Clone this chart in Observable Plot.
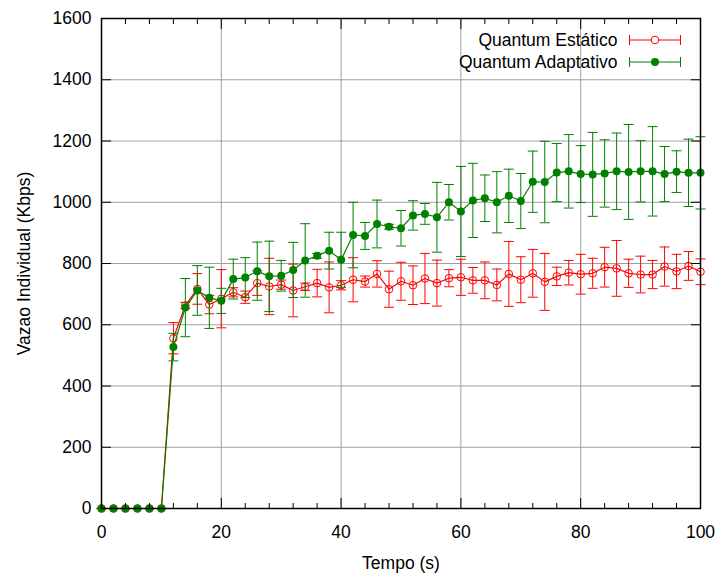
<!DOCTYPE html>
<html>
<head>
<meta charset="utf-8">
<script src="https://cdn.jsdelivr.net/npm/d3@7"></script>
<script src="https://cdn.jsdelivr.net/npm/@observablehq/plot@0.6"></script>
<style>
  html, body { margin: 0; padding: 0; background: #fff; }
</style>
</head>
<body>
<div id="chart"></div>
<script>
// ---- data ----
const tempo = [0,2,4,6,8,10,12,14,16,18,20,22,24,26,28,30,32,34,36,38,40,42,44,46,48,50,52,54,56,58,60,62,64,66,68,70,72,74,76,78,80,82,84,86,88,90,92,94,96,98,100];

const estaticoMean = [0,0,0,0,0,0,556,663,717,666,685,706,690,736,725,731,712,724,736,722,729,747,741,766,716,742,729,751,736,752,755,745,745,730,766,747,768,740,758,770,765,768,788,784,768,764,764,790,774,792,773];
const estaticoErr  = [0,0,0,0,0,0,51,10,50,30,95,15,20,40,92,15,86,12,45,83,15,72,18,43,59,62,63,82,75,28,59,42,60,52,106,75,78,93,30,40,65,49,65,91,46,60,46,64,56,47,42];

const adaptativoMean = [0,0,0,0,0,0,527,656,712,688,678,749,754,775,758,760,779,810,825,842,812,893,890,929,920,915,957,962,951,1000,970,1006,1013,1000,1021,1004,1067,1066,1097,1101,1092,1091,1094,1101,1099,1101,1101,1092,1100,1096,1096];
const adaptativoErr  = [0,0,0,0,0,0,45,95,81,100,41,65,65,95,115,50,90,120,8,60,90,107,44,78,8,58,48,34,114,58,147,121,76,100,87,90,100,133,95,120,93,137,110,125,155,100,146,90,68,110,118];

const seriesNames = ["Quantum Estático", "Quantum Adaptativo"];
const xTicks = [0,20,40,60,80,100];
const xMinorTicks = [4,8,12,16,24,28,32,36,44,48,52,56,64,68,72,76,84,88,92,96];
const yTicks = [0,200,400,600,800,1000,1200,1400,1600];
const xLabel = "Tempo (s)";
const yLabel = "Vazao Individual (Kbps)";

// ---- build tables ----
const estatico = tempo.map((t, i) => ({t, v: estaticoMean[i], e: estaticoErr[i]}));
const adaptativo = tempo.map((t, i) => ({t, v: adaptativoMean[i], e: adaptativoErr[i]}));

const RED = "#ff0000";
const GREEN = "#008000";
const FS = 17.5;

const capSymbol = { draw(ctx) { ctx.moveTo(-5, 0); ctx.lineTo(5, 0); } };
const legendSymbol = { draw(ctx) {
  const w = 25.5, h = 5;
  ctx.moveTo(-w, 0); ctx.lineTo(w, 0);
  ctx.moveTo(-w, -h); ctx.lineTo(-w, h);
  ctx.moveTo(w, -h); ctx.lineTo(w, h);
} };

function seriesMarks(data, color, filled) {
  return [
    Plot.ruleX(data, {x: "t", y1: d => d.v - d.e, y2: d => d.v + d.e, stroke: color, strokeWidth: 1}),
    Plot.dot(data, {x: "t", y: d => d.v - d.e, symbol: capSymbol, r: 5, stroke: color, fill: "none", strokeWidth: 1}),
    Plot.dot(data, {x: "t", y: d => d.v + d.e, symbol: capSymbol, r: 5, stroke: color, fill: "none", strokeWidth: 1}),
    Plot.line(data, {x: "t", y: "v", stroke: color, strokeWidth: 1.2}),
    filled
      ? Plot.dot(data, {x: "t", y: "v", r: 4, fill: color, stroke: "none"})
      : Plot.dot(data, {x: "t", y: "v", r: 3.8, fill: "none", stroke: color, strokeWidth: 1})
  ];
}

function legendMarks(label, color, filled, dy) {
  return [
    Plot.text([label], {frameAnchor: "top-right", dx: -83, dy, textAnchor: "end", lineAnchor: "middle", fontSize: FS, fill: "#000"}),
    Plot.dot([label], {frameAnchor: "top-right", dx: -45.5, dy, symbol: legendSymbol, r: 5, stroke: color, fill: "none", strokeWidth: 1}),
    filled
      ? Plot.dot([label], {frameAnchor: "top-right", dx: -45.5, dy, r: 4, fill: color, stroke: "none"})
      : Plot.dot([label], {frameAnchor: "top-right", dx: -45.5, dy, r: 3.8, fill: "white", stroke: color, strokeWidth: 1})
  ];
}

const chart = Plot.plot({
  width: 716,
  height: 579,
  marginLeft: 101,
  marginRight: 16,
  marginTop: 18,
  marginBottom: 71,
  style: {fontFamily: "'Liberation Sans', Arial, sans-serif", fontSize: FS + "px", background: "#fff", color: "#000"},
  x: {domain: [0, 100]},
  y: {domain: [0, 1600]},
  marks: [
    Plot.gridX({ticks: xTicks, stroke: "#a0a0a0", strokeOpacity: 1, strokeWidth: 1}),
    Plot.gridY({ticks: yTicks, stroke: "#a0a0a0", strokeOpacity: 1, strokeWidth: 1}),
    ...seriesMarks(estatico, RED, false),
    ...seriesMarks(adaptativo, GREEN, true),
    Plot.frame({stroke: "#000", strokeWidth: 1.5}),
    // inward ticks on all four sides
    Plot.axisX({ticks: xTicks, tickSize: -10, tickFormat: () => "", label: null, stroke: "#000"}),
    Plot.axisX({ticks: xMinorTicks, tickSize: -5, tickFormat: () => "", label: null, stroke: "#000"}),
    Plot.axisX({anchor: "top", ticks: xTicks, tickSize: -10, tickFormat: () => "", label: null, stroke: "#000"}),
    Plot.axisX({anchor: "top", ticks: xMinorTicks, tickSize: -5, tickFormat: () => "", label: null, stroke: "#000"}),
    Plot.axisY({ticks: yTicks, tickSize: -10, tickFormat: () => "", label: null, stroke: "#000"}),
    Plot.axisY({anchor: "right", ticks: yTicks, tickSize: -10, tickFormat: () => "", label: null, stroke: "#000"}),
    // tick labels
    Plot.axisX({ticks: xTicks, tickSize: 0, tickPadding: 17, tickFormat: d => String(d), label: null, fontSize: FS, fill: "#000"}),
    Plot.axisY({ticks: yTicks, tickSize: 0, tickPadding: 10, tickFormat: d => String(d), label: null, fontSize: FS, fill: "#000"}),
    // axis titles
    Plot.text([xLabel], {frameAnchor: "bottom", dy: 55, lineAnchor: "middle", textAnchor: "middle", fontSize: FS, fill: "#000"}),
    Plot.text([yLabel], {frameAnchor: "left", dx: -77, rotate: -90, lineAnchor: "middle", textAnchor: "middle", fontSize: FS, fill: "#000"}),
    // legend
    ...legendMarks(seriesNames[0], RED, false, 21.5),
    ...legendMarks(seriesNames[1], GREEN, true, 43.5)
  ]
});

document.getElementById("chart").appendChild(chart);
</script>
</body>
</html>
